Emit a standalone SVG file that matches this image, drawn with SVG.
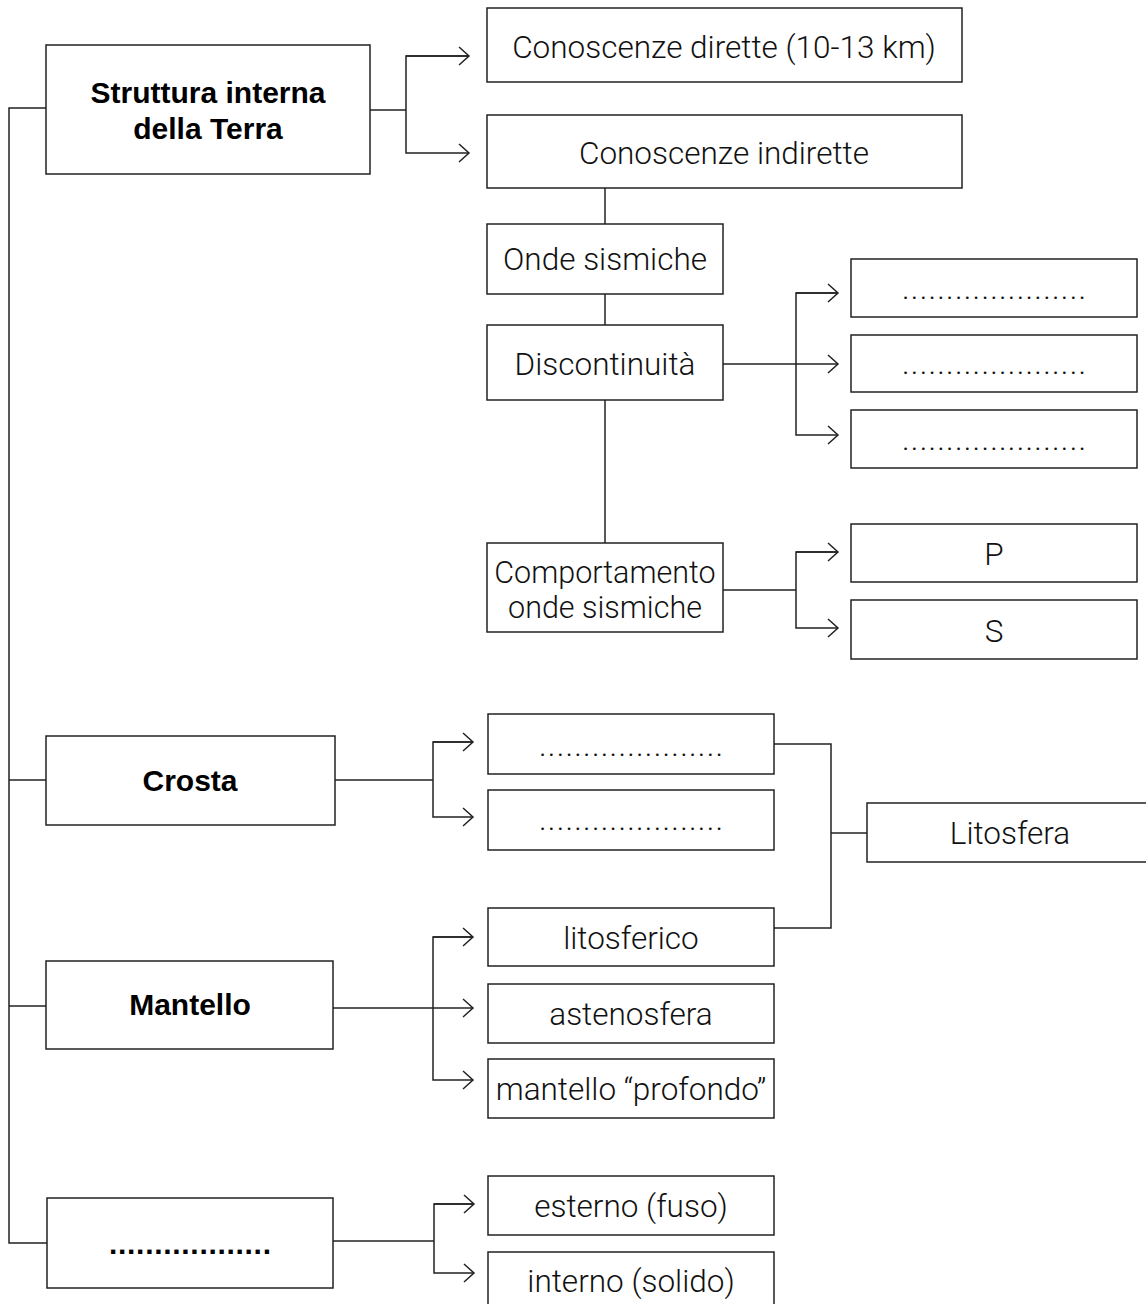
<svg xmlns="http://www.w3.org/2000/svg" width="1146" height="1306" viewBox="0 0 1146 1306">
<style>
.box{fill:#fff;stroke:#222;stroke-width:1.5}
.ln{fill:none;stroke:#222;stroke-width:1.5}
.t{font-family:Roboto,"Liberation Sans",sans-serif;font-weight:300;font-size:31.5px;fill:#111;text-anchor:middle}
.b{font-family:"Liberation Sans",Arial,sans-serif;font-weight:bold;font-size:30px;fill:#000;text-anchor:middle}
</style>
<defs>
<marker id="ar" markerUnits="userSpaceOnUse" markerWidth="14" markerHeight="22" refX="11" refY="10" orient="auto">
<path d="M1,1 L11,10 L1,19" fill="none" stroke="#222" stroke-width="1.5"/>
</marker>
</defs>
<rect width="1146" height="1306" fill="#fff"/>
<g id="connectors">
<path class="ln" d="M46,108 H9 V1243 H47"/>
<path class="ln" d="M9,780 H46"/>
<path class="ln" d="M9,1006 H46"/>
<path class="ln" d="M370,110 H406"/>
<path class="ln" d="M469,56 H406 V153 H469" marker-end="url(#ar)"/>
<path class="ln" d="M406,56 H469" marker-end="url(#ar)"/>
<path class="ln" d="M605,188 V224"/>
<path class="ln" d="M605,294 V325"/>
<path class="ln" d="M605,400 V543"/>
<path class="ln" d="M723,364 H838" marker-end="url(#ar)"/>
<path class="ln" d="M838,293 H796 V435 H838" marker-end="url(#ar)"/>
<path class="ln" d="M796,293 H838" marker-end="url(#ar)"/>
<path class="ln" d="M723,590 H796"/>
<path class="ln" d="M838,552 H796 V628 H838" marker-end="url(#ar)"/>
<path class="ln" d="M796,552 H838" marker-end="url(#ar)"/>
<path class="ln" d="M335,780 H433"/>
<path class="ln" d="M473,742 H433 V817 H473" marker-end="url(#ar)"/>
<path class="ln" d="M433,742 H473" marker-end="url(#ar)"/>
<path class="ln" d="M774,744 H831 V928 H774"/>
<path class="ln" d="M831,833 H867"/>
<path class="ln" d="M333,1008 H473" marker-end="url(#ar)"/>
<path class="ln" d="M473,937 H433 V1080 H473" marker-end="url(#ar)"/>
<path class="ln" d="M433,937 H473" marker-end="url(#ar)"/>
<path class="ln" d="M333,1241 H434"/>
<path class="ln" d="M474,1204 H434 V1273 H474" marker-end="url(#ar)"/>
<path class="ln" d="M434,1204 H474" marker-end="url(#ar)"/>
</g>
<g id="n-struttura"><rect class="box" x="46" y="45" width="324" height="129"/><text class="b" x="208" y="103">Struttura interna</text><text class="b" x="208" y="139">della Terra</text></g>
<g id="n-dirette"><rect class="box" x="487" y="8" width="475" height="74"/><text class="t" x="724" y="58">Conoscenze dirette (10-13 km)</text></g>
<g id="n-indirette"><rect class="box" x="487" y="115" width="475" height="73"/><text class="t" x="724" y="164">Conoscenze indirette</text></g>
<g id="n-onde"><rect class="box" x="487" y="224" width="236" height="70"/><text class="t" x="605" y="270">Onde sismiche</text></g>
<g id="n-disc"><rect class="box" x="487" y="325" width="236" height="75"/><text class="t" x="605" y="375">Discontinuità</text></g>
<g id="n-comp"><rect class="box" x="487" y="543" width="236" height="89"/><text class="t" x="605" y="583" style="font-size:30.5px">Comportamento</text><text class="t" x="605" y="618" style="font-size:30.5px">onde sismiche</text></g>
<g id="n-d1"><rect class="box" x="851" y="259" width="286" height="58"/><text class="t" x="994" y="299" textLength="184">.....................</text></g>
<g id="n-d2"><rect class="box" x="851" y="335" width="286" height="57"/><text class="t" x="994" y="374" textLength="184">.....................</text></g>
<g id="n-d3"><rect class="box" x="851" y="410" width="286" height="58"/><text class="t" x="994" y="450" textLength="184">.....................</text></g>
<g id="n-p"><rect class="box" x="851" y="524" width="286" height="58"/><text class="t" x="994" y="565">P</text></g>
<g id="n-s"><rect class="box" x="851" y="600" width="286" height="59"/><text class="t" x="994" y="642">S</text></g>
<g id="n-crosta"><rect class="box" x="46" y="736" width="289" height="89"/><text class="b" x="190" y="791">Crosta</text></g>
<g id="n-c1"><rect class="box" x="488" y="714" width="286" height="60"/><text class="t" x="631" y="756" textLength="184">.....................</text></g>
<g id="n-c2"><rect class="box" x="488" y="790" width="286" height="60"/><text class="t" x="631" y="830" textLength="184">.....................</text></g>
<g id="n-lito"><rect class="box" x="867" y="803" width="290" height="59"/><text class="t" x="1010" y="844">Litosfera</text></g>
<g id="n-mantello"><rect class="box" x="46" y="961" width="287" height="88"/><text class="b" x="190" y="1015">Mantello</text></g>
<g id="n-m1"><rect class="box" x="488" y="908" width="286" height="58"/><text class="t" x="631" y="949">litosferico</text></g>
<g id="n-m2"><rect class="box" x="488" y="984" width="286" height="59"/><text class="t" x="631" y="1025">astenosfera</text></g>
<g id="n-m3"><rect class="box" x="488" y="1059" width="286" height="59"/><text class="t" x="631" y="1100">mantello “profondo”</text></g>
<g id="n-nucleo"><rect class="box" x="47" y="1198" width="286" height="90"/><text class="b" x="190" y="1254" textLength="162">..................</text></g>
<g id="n-n1"><rect class="box" x="488" y="1176" width="286" height="59"/><text class="t" x="631" y="1217">esterno (fuso)</text></g>
<g id="n-n2"><path class="ln" d="M488,1304 V1252 H774 V1304"/><text class="t" x="631" y="1292">interno (solido)</text></g>
</svg>
